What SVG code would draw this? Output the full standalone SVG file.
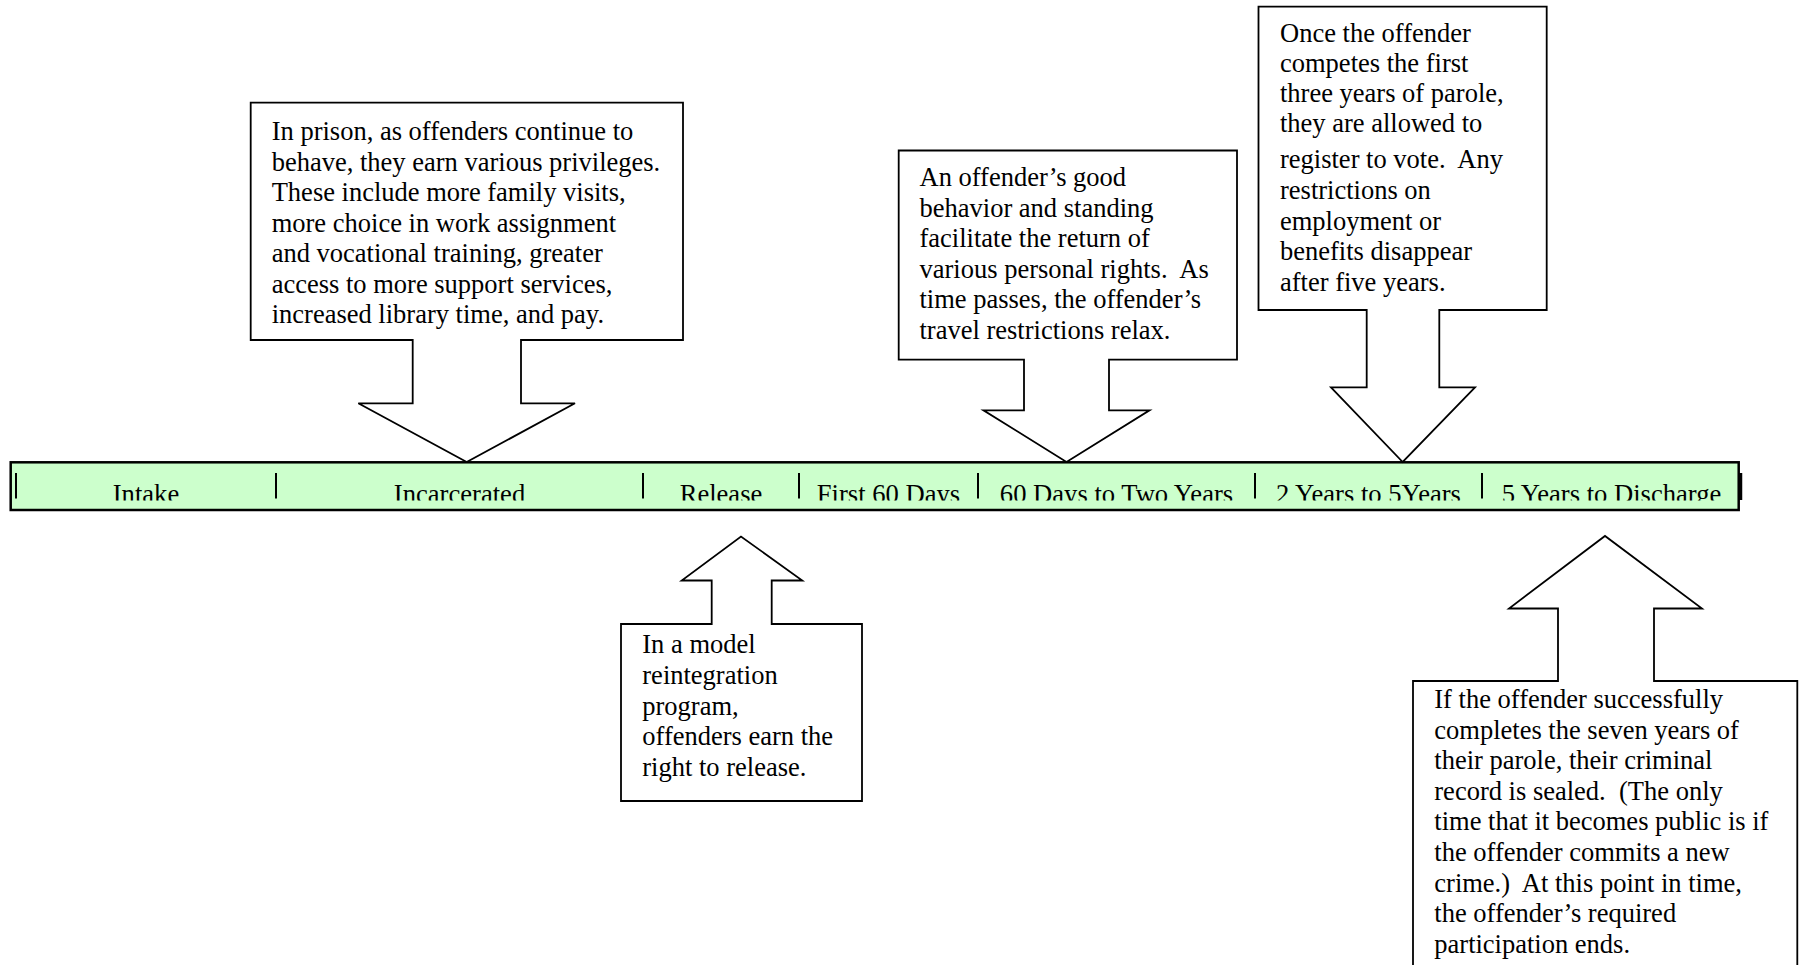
<svg xmlns="http://www.w3.org/2000/svg" width="1802" height="965" viewBox="0 0 1802 965">
<style>
.callout{fill:#fff;stroke:#000;stroke-width:1.8;stroke-linejoin:miter}
.t{font-family:"Liberation Serif","Times New Roman",serif;font-size:26.5px;fill:#000}
.bt{font-family:"Liberation Serif","Times New Roman",serif;font-size:26.6px;fill:#000;text-anchor:middle}
.div{stroke:#000;stroke-width:2}
</style>
<defs>
<clipPath id="barclip"><rect x="12" y="464" width="1726" height="36.5"/></clipPath>
</defs>
<rect width="1802" height="965" fill="#fff"/>

<g id="timeline">
<rect x="10.7" y="462.3" width="1728" height="47.7" fill="#CCFFCC" stroke="#000" stroke-width="2.5"/>
<line class="div" x1="16" y1="473" x2="16" y2="498.5"/>
<line class="div" x1="276" y1="473" x2="276" y2="498.5"/>
<line class="div" x1="643" y1="473" x2="643" y2="498.5"/>
<line class="div" x1="799" y1="473" x2="799" y2="498.5"/>
<line class="div" x1="978" y1="473" x2="978" y2="498.5"/>
<line class="div" x1="1255" y1="473" x2="1255" y2="498.5"/>
<line class="div" x1="1482" y1="473" x2="1482" y2="498.5"/>
<line x1="1740.5" y1="473" x2="1740.5" y2="500" stroke="#000" stroke-width="3.5"/>
<g clip-path="url(#barclip)">
<text class="bt" x="146" y="503">Intake</text>
<text class="bt" x="459.5" y="503">Incarcerated</text>
<text class="bt" x="721" y="503">Release</text>
<text class="bt" x="888.5" y="503">First 60 Days</text>
<text class="bt" x="1116.5" y="503">60 Days to Two Years</text>
<text class="bt" x="1368.5" y="503">2 Years to 5Years</text>
<text class="bt" x="1611.5" y="503">5 Years to Discharge</text>
</g>
</g>

<g id="node-prison">
<path class="callout" d="M250.7,102.7 H683 V340 H521 V403.3 H575 L466.7,462 L358.3,403.3 H412.7 V340 H250.7 Z"/>
<text class="t" x="271.7" y="140">In prison, as offenders continue to</text>
<text class="t" x="271.7" y="170.5">behave, they earn various privileges.</text>
<text class="t" x="271.7" y="201">These include more family visits,</text>
<text class="t" x="271.7" y="231.5">more choice in work assignment</text>
<text class="t" x="271.7" y="262">and vocational training, greater</text>
<text class="t" x="271.7" y="292.5">access to more support services,</text>
<text class="t" x="271.7" y="323">increased library time, and pay.</text>
</g>

<g id="node-rights">
<path class="callout" d="M898.7,150.5 H1237 V359.7 H1109 V410.3 H1149.5 L1066.5,462 L983.5,410.3 H1024 V359.7 H898.7 Z"/>
<text class="t" x="919.5" y="186">An offender’s good</text>
<text class="t" x="919.5" y="216.5">behavior and standing</text>
<text class="t" x="919.5" y="247">facilitate the return of</text>
<text class="t" x="919.5" y="277.5" xml:space="preserve">various personal rights.  As</text>
<text class="t" x="919.5" y="308">time passes, the offender’s</text>
<text class="t" x="919.5" y="338.5">travel restrictions relax.</text>
</g>

<g id="node-vote">
<path class="callout" d="M1258.5,6.7 H1546.7 V310 H1439.3 V387.3 H1475 L1402.7,462 L1331,387.3 H1366.7 V310 H1258.5 Z"/>
<text class="t" x="1280" y="41.5">Once the offender</text>
<text class="t" x="1280" y="71.5">competes the first</text>
<text class="t" x="1280" y="101.5">three years of parole,</text>
<text class="t" x="1280" y="131.5">they are allowed to</text>
<text class="t" x="1280" y="168" xml:space="preserve">register to vote.  Any</text>
<text class="t" x="1280" y="199">restrictions on</text>
<text class="t" x="1280" y="229.5">employment or</text>
<text class="t" x="1280" y="260">benefits disappear</text>
<text class="t" x="1280" y="290.5">after five years.</text>
</g>

<g id="node-release">
<path class="callout" d="M621,624 H711.7 V580.5 H681.7 L741,536.5 L802.3,580.5 H771.7 V624 H862 V801 H621 Z"/>
<text class="t" x="642.3" y="653.3">In a model</text>
<text class="t" x="642.3" y="683.9">reintegration</text>
<text class="t" x="642.3" y="714.5">program,</text>
<text class="t" x="642.3" y="745.1">offenders earn the</text>
<text class="t" x="642.3" y="775.7">right to release.</text>
</g>

<g id="node-discharge">
<path class="callout" d="M1413,681 H1558 V608.5 H1509 L1605,536 L1702,608.5 H1654 V681 H1797.3 V980 H1413 Z"/>
<text class="t" x="1434.3" y="708">If the offender successfully</text>
<text class="t" x="1434.3" y="738.6">completes the seven years of</text>
<text class="t" x="1434.3" y="769.2">their parole, their criminal</text>
<text class="t" x="1434.3" y="799.8" xml:space="preserve">record is sealed.  (The only</text>
<text class="t" x="1434.3" y="830.4">time that it becomes public is if</text>
<text class="t" x="1434.3" y="861">the offender commits a new</text>
<text class="t" x="1434.3" y="891.6" xml:space="preserve">crime.)  At this point in time,</text>
<text class="t" x="1434.3" y="922.2">the offender’s required</text>
<text class="t" x="1434.3" y="952.8">participation ends.</text>
</g>

<g id="connectors"></g>
</svg>
